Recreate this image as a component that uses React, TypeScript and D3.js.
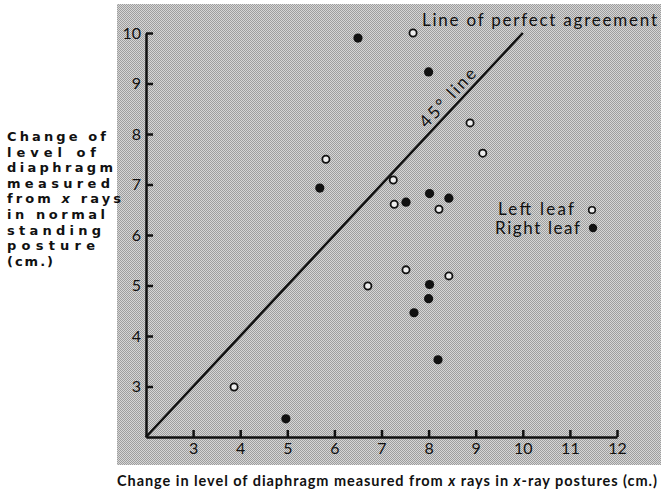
import { useEffect, useRef } from "react";
import * as d3 from "d3";

const W = 661;
const H = 493;

// axis ranges and ticks
const X_DOMAIN = [2, 12];
const Y_DOMAIN = [2, 10];
const X_TICKS = [3, 4, 5, 6, 7, 8, 9, 10, 11, 12];
const Y_TICKS = [3, 4, 5, 6, 7, 8, 9, 10];

// Left leaf (open circles)
const leftX = [7.67, 8.88, 9.15, 5.82, 7.25, 7.27, 8.22, 6.71, 7.52, 8.43, 3.87];
const leftY = [10.0, 8.22, 7.62, 7.5, 7.09, 6.61, 6.51, 4.99, 5.31, 5.19, 2.99];

// Right leaf (filled circles)
const rightX = [6.5, 8.0, 5.69, 7.52, 8.02, 8.43, 8.02, 8.0, 7.69, 8.2, 4.97];
const rightY = [9.9, 9.23, 6.93, 6.65, 6.82, 6.73, 5.02, 4.74, 4.46, 3.53, 2.36];

// 45 degree line
const lineX = [2, 10];

const yLabelLines = [
  { t: "Change of", w: 99 },
  { t: "level of", w: 89 },
  { t: "diaphragm", w: 106 },
  { t: "measured", w: 103 },
  { t: "from x rays", w: 114 },
  { t: "in normal", w: 98 },
  { t: "standing", w: 94 },
  { t: "posture", w: 88 },
  { t: "(cm.)", w: 46 },
];

const FONT = "Lato, 'Open Sans', sans-serif";
const INK = "#111";

export default function App() {
  const ref = useRef<SVGSVGElement>(null);

  useEffect(() => {
    const svg = d3.select(ref.current);
    svg.selectAll("*").remove();

    const x = d3.scaleLinear().domain(X_DOMAIN).range([146, 617]);
    const y = d3.scaleLinear().domain(Y_DOMAIN).range([437, 33]);

    // halftone-ish background
    const defs = svg.append("defs");
    const pat = defs
      .append("pattern")
      .attr("id", "dots")
      .attr("width", 2)
      .attr("height", 2)
      .attr("patternUnits", "userSpaceOnUse");
    pat.append("rect").attr("width", 2).attr("height", 2).attr("fill", "#d6d6d6");
    pat.append("rect").attr("width", 1).attr("height", 1).attr("fill", "#9e9e9e");
    pat.append("rect").attr("x", 1).attr("y", 1).attr("width", 1).attr("height", 1).attr("fill", "#9e9e9e");

    svg.append("rect").attr("width", W).attr("height", H).attr("fill", "#fff");
    svg
      .append("rect")
      .attr("x", 117)
      .attr("y", 4)
      .attr("width", W - 117)
      .attr("height", 461)
      .attr("fill", "url(#dots)");

    // axes
    const xAxis = d3
      .axisBottom(x)
      .tickValues(X_TICKS)
      .tickSize(-7)
      .tickSizeOuter(0)
      .tickPadding(6)
      .tickFormat(d3.format("d"));
    const yAxis = d3
      .axisLeft(y)
      .tickValues(Y_TICKS)
      .tickSize(-7)
      .tickSizeOuter(0)
      .tickPadding(6)
      .tickFormat(d3.format("d"));

    const gx = svg.append("g").attr("transform", `translate(0,${y(2)})`).call(xAxis);
    const gy = svg.append("g").attr("transform", `translate(${x(2)},0)`).call(yAxis);
    [gx, gy].forEach((g) => {
      g.selectAll("path, line").attr("stroke", INK).attr("stroke-width", 2.5);
      g.selectAll("text")
        .attr("fill", INK)
        .attr("font-family", FONT)
        .attr("font-size", 16);
    });
    gy.selectAll("text").attr("dx", 1);

    // 45 degree line
    svg
      .append("line")
      .attr("x1", x(lineX[0]))
      .attr("y1", y(lineX[0]))
      .attr("x2", x(lineX[1]))
      .attr("y2", y(lineX[1]))
      .attr("stroke", INK)
      .attr("stroke-width", 2.5);

    // label along line
    const lx = x(8.57);
    const ly = y(8.57);
    const ang = (Math.atan2(y(10) - y(2), x(10) - x(2)) * 180) / Math.PI;
    svg
      .append("text")
      .attr("transform", `translate(${lx},${ly}) rotate(${ang}) translate(0,-5)`)
      .attr("text-anchor", "middle")
      .attr("font-family", FONT)
      .attr("font-size", 17)
      .attr("fill", INK)
      .attr("textLength", 74)
      .attr("lengthAdjust", "spacing")
      .text("45° line");

    svg
      .append("text")
      .attr("x", 422)
      .attr("y", 26)
      .attr("font-family", FONT)
      .attr("font-size", 17)
      .attr("fill", INK)
      .attr("textLength", 235)
      .attr("lengthAdjust", "spacing")
      .text("Line of perfect agreement");

    // points
    svg
      .append("g")
      .selectAll("circle")
      .data(leftX.map((v, i) => [v, leftY[i]]))
      .join("circle")
      .attr("cx", (d) => x(d[0]))
      .attr("cy", (d) => y(d[1]))
      .attr("r", 3.6)
      .attr("fill", "#eee")
      .attr("stroke", INK)
      .attr("stroke-width", 1.8);

    svg
      .append("g")
      .selectAll("circle")
      .data(rightX.map((v, i) => [v, rightY[i]]))
      .join("circle")
      .attr("cx", (d) => x(d[0]))
      .attr("cy", (d) => y(d[1]))
      .attr("r", 4.6)
      .attr("fill", INK);

    // legend
    const leg = svg.append("g").attr("font-family", FONT).attr("font-size", 17).attr("fill", INK);
    leg.append("text").attr("x", 498).attr("y", 215).attr("textLength", 76).attr("lengthAdjust", "spacing").text("Left leaf");
    leg.append("text").attr("x", 495).attr("y", 234).attr("textLength", 85).attr("lengthAdjust", "spacing").text("Right leaf");
    leg.append("circle").attr("cx", 592).attr("cy", 210).attr("r", 3.3).attr("fill", "#eee").attr("stroke", INK).attr("stroke-width", 1.6);
    leg.append("circle").attr("cx", 593).attr("cy", 228).attr("r", 4.2).attr("fill", INK);

    // y label (left)
    const yl = svg.append("g").attr("font-family", "'DejaVu Sans', sans-serif").attr("font-size", 13).attr("font-weight", 700).attr("fill", INK);
    yLabelLines.forEach((l, i) => {
      const t = yl.append("text")
        .attr("x", 7)
        .attr("y", 141 + i * 15.6)
        .attr("textLength", l.w)
        .attr("lengthAdjust", "spacing");
      // the x in "from x rays" is italic
      l.t.split(/( x )/).forEach((part) => {
        if (part === " x ") {
          t.append("tspan").text(" ");
          t.append("tspan").attr("font-style", "italic").text("x");
          t.append("tspan").text(" ");
        } else {
          t.append("tspan").text(part);
        }
      });
    });

    // x label (bottom)
    const xl = svg
      .append("text")
      .attr("x", 117)
      .attr("y", 486)
      .attr("font-family", FONT)
      .attr("font-size", 14.5)
      .attr("font-weight", 700)
      .attr("fill", INK)
      .attr("textLength", 540)
      .attr("lengthAdjust", "spacing");
    xl.append("tspan").text("Change in level of diaphragm measured from ");
    xl.append("tspan").attr("font-style", "italic").text("x");
    xl.append("tspan").text(" rays in ");
    xl.append("tspan").attr("font-style", "italic").text("x");
    xl.append("tspan").text("-ray postures  (cm.)");
  }, []);

  return (
    <svg
      ref={ref}
      width={W}
      height={H}
      style={{ position: "absolute", left: 0, top: 0, display: "block" }}
    />
  );
}
